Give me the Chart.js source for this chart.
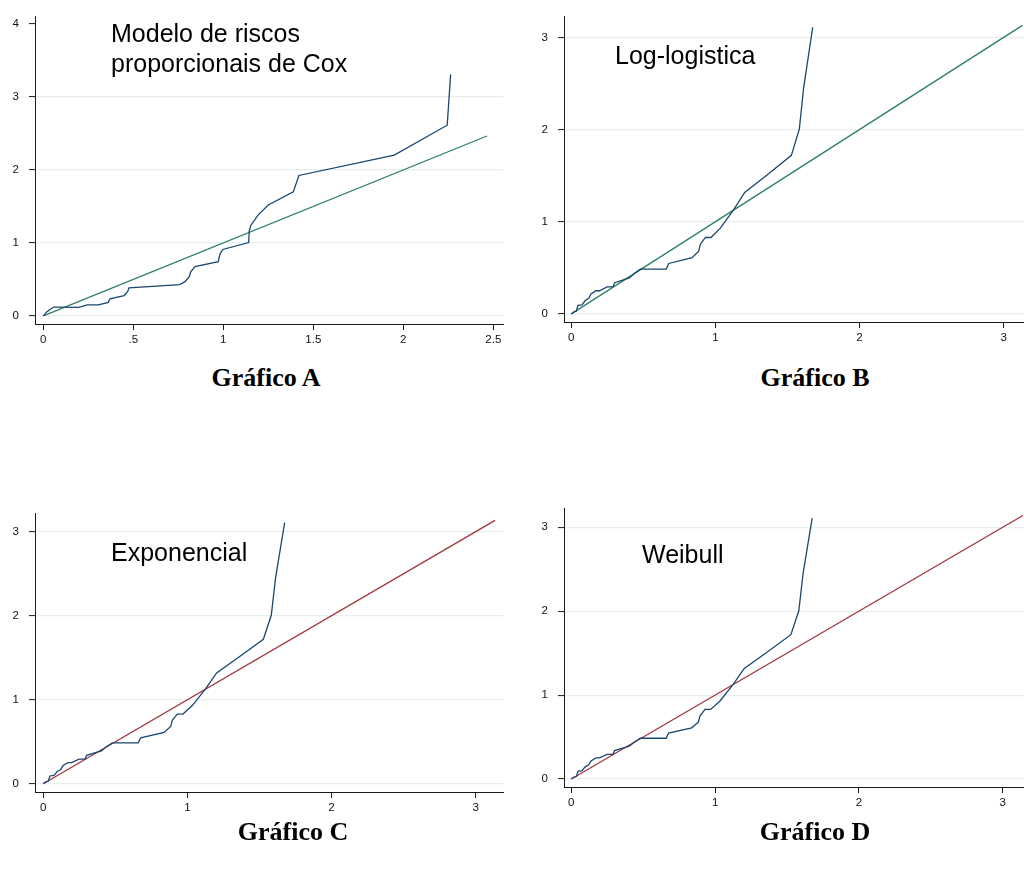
<!DOCTYPE html>
<html>
<head>
<meta charset="utf-8">
<script src="https://cdn.jsdelivr.net/npm/chart.js@4.4.1/dist/chart.umd.min.js"></script>
<style>
  html, body { margin: 0; padding: 0; background: #ffffff; }
  #wrap { position: relative; width: 1024px; height: 872px; overflow: hidden; background: #fff; }
  canvas { position: absolute; }
  .note { position: absolute; font-family: "Liberation Sans", Arial, sans-serif; font-size: 25px; line-height: 25px; color: #000; white-space: nowrap; }
  .ttl { position: absolute; font-family: "Liberation Serif", "Times New Roman", serif; font-weight: bold; font-size: 26px; line-height: 26px; color: #000; text-align: center; width: 200px; white-space: nowrap; }
</style>
</head>
<body>
<div id="wrap">
  <canvas id="cA" width="512" height="360" style="left:0px;top:0px;"></canvas>
  <canvas id="cB" width="512" height="360" style="left:512px;top:0px;"></canvas>
  <canvas id="cC" width="512" height="380" style="left:0px;top:460px;"></canvas>
  <canvas id="cD" width="512" height="380" style="left:512px;top:460px;"></canvas>

  <div class="note" style="left:111px;top:20.5px;">Modelo de riscos</div>
  <div class="note" style="left:111px;top:50.5px;">proporcionais de Cox</div>
  <div class="note" style="left:615px;top:43px;">Log-logistica</div>
  <div class="note" style="left:111px;top:540px;">Exponencial</div>
  <div class="note" style="left:642px;top:541.5px;">Weibull</div>

  <div class="ttl" style="left:166px;top:365px;">Gráfico A</div>
  <div class="ttl" style="left:715px;top:365px;">Gráfico B</div>
  <div class="ttl" style="left:193px;top:819px;">Gráfico C</div>
  <div class="ttl" style="left:715px;top:819px;">Gráfico D</div>
</div>
<script>
// ---- Data ----
// Gráfico A: Cox model Cox-Snell residuals vs cumulative hazard
const A_x = [0, 0.019, 0.037, 0.058, 0.196, 0.245, 0.306, 0.361, 0.370, 0.449, 0.469, 0.476, 0.759, 0.787, 0.811, 0.819, 0.843, 0.972, 0.981, 0.997, 1.141, 1.144, 1.152, 1.194, 1.250, 1.389, 1.420, 1.950, 2.244, 2.263];
const A_y = [0, 0.054, 0.086, 0.120, 0.115, 0.150, 0.150, 0.185, 0.233, 0.278, 0.334, 0.383, 0.428, 0.469, 0.536, 0.604, 0.676, 0.743, 0.843, 0.910, 1.005, 1.158, 1.235, 1.384, 1.519, 1.699, 1.924, 2.203, 2.613, 3.310];
// Gráficos B, C, D: parametric model residual curves
const B_x = [0, 0.016, 0.035, 0.046, 0.074, 0.097, 0.121, 0.137, 0.171, 0.197, 0.248, 0.289, 0.301, 0.403, 0.433, 0.479, 0.659, 0.676, 0.838, 0.884, 0.895, 0.930, 0.969, 1.034, 1.127, 1.203, 1.358, 1.527, 1.582, 1.612, 1.675];
const B_y = [0, 0.021, 0.029, 0.092, 0.099, 0.145, 0.169, 0.216, 0.251, 0.251, 0.293, 0.293, 0.338, 0.391, 0.433, 0.486, 0.486, 0.547, 0.610, 0.681, 0.754, 0.829, 0.829, 0.930, 1.131, 1.318, 1.508, 1.720, 2.005, 2.453, 3.110];
const C_x = B_x, C_y = B_y;
const D_x = B_x, D_y = B_y;
// 45-degree reference lines (start, end)
const A_ref = [0, 2.465];
const B_ref = [0, 3.13];
const C_ref = [0, 3.135];
const D_ref = [0, 3.14];
// Ticks
const A_xTicks = [0, 0.5, 1, 1.5, 2, 2.5];
const A_xTickLabels = ['0', '.5', '1', '1.5', '2', '2.5'];
const A_yTicks = [0, 1, 2, 3, 4];
const A_yTickLabels = ['0', '1', '2', '3', '4'];
const P_xTicks = [0, 1, 2, 3];
const P_xTickLabels = ['0', '1', '2', '3'];
const P_yTicks = [0, 1, 2, 3];
const P_yTickLabels = ['0', '1', '2', '3'];

// ---- Styles ----
const NAVY = '#1a476f';
const GREEN = '#2e7d68';
const MAROON = '#a0353b';
const GRID = '#e6eef0';
const AXIS = '#1a1a1a';
const FONT = { family: '"Liberation Sans", Arial, sans-serif', size: 11.5 };

function pts(xs, ys) { return xs.map((x, i) => ({ x: x, y: ys[i] })); }

function panel(id, o) {
  new Chart(document.getElementById(id), {
    type: 'scatter',
    data: {
      datasets: [
        { data: pts(o.xs, o.ys), showLine: true, borderColor: NAVY, borderWidth: 1.3, pointRadius: 0, tension: 0, order: 1 },
        { data: pts(o.ref, o.ref), showLine: true, borderColor: o.refColor, borderWidth: 1.3, pointRadius: 0, tension: 0, order: 2 }
      ]
    },
    options: {
      responsive: false,
      animation: false,
      events: [],
      layout: { padding: o.pad },
      plugins: { legend: { display: false }, tooltip: { enabled: false }, title: { display: false } },
      scales: {
        x: {
          type: 'linear', min: o.xr[0], max: o.xr[1],
          afterBuildTicks: s => { s.ticks = o.xt.map(v => ({ value: v })); },
          afterFit: s => { s.height = o.xh; },
          ticks: { font: FONT, color: '#111', padding: 3, maxRotation: 0, autoSkip: false,
                   callback: (v, i) => o.xl[i] },
          grid: { drawOnChartArea: false, drawTicks: true, tickLength: 6, tickColor: AXIS, tickWidth: 1 },
          border: { display: true, color: AXIS, width: 1 }
        },
        y: {
          type: 'linear', min: o.yr[0], max: o.yr[1],
          afterBuildTicks: s => { s.ticks = o.yt.map(v => ({ value: v })); },
          afterFit: s => { s.width = o.yw; },
          ticks: { font: FONT, color: '#111', padding: 10, autoSkip: false,
                   callback: (v, i) => o.yl[i] },
          grid: {
            color: ctx => (ctx.tick && o.noGrid.includes(ctx.tick.value)) ? 'rgba(0,0,0,0)' : GRID,
            lineWidth: 1.2, drawTicks: true, tickLength: 6, tickColor: AXIS, tickWidth: 1
          },
          border: { display: true, color: AXIS, width: 1 }
        }
      }
    }
  });
}

panel('cA', { xs: A_x, ys: A_y, ref: A_ref, refColor: GREEN,
  pad: { left: 0, top: 12, right: 9, bottom: 0 }, xh: 36, yw: 35,
  xr: [-0.0461, 2.554], yr: [-0.112, 4.098],
  xt: A_xTicks, xl: A_xTickLabels, yt: A_yTicks, yl: A_yTickLabels, noGrid: [4] });

panel('cB', { xs: B_x, ys: B_y, ref: B_ref, refColor: GREEN,
  pad: { left: 0, top: 9, right: 0, bottom: 0 }, xh: 38, yw: 52,
  xr: [-0.0507, 3.141], yr: [-0.0878, 3.222],
  xt: P_xTicks, xl: P_xTickLabels, yt: P_yTicks, yl: P_yTickLabels, noGrid: [] });

panel('cC', { xs: C_x, ys: C_y, ref: C_ref, refColor: MAROON,
  pad: { left: 0, top: 53, right: 9, bottom: 0 }, xh: 48, yw: 35,
  xr: [-0.0576, 3.190], yr: [-0.0988, 3.223],
  xt: P_xTicks, xl: P_xTickLabels, yt: P_yTicks, yl: P_yTickLabels, noGrid: [] });

panel('cD', { xs: D_x, ys: D_y, ref: D_ref, refColor: MAROON,
  pad: { left: 0, top: 48, right: 0, bottom: 0 }, xh: 53, yw: 52,
  xr: [-0.0508, 3.148], yr: [-0.0953, 3.230],
  xt: P_xTicks, xl: P_xTickLabels, yt: P_yTicks, yl: P_yTickLabels, noGrid: [] });
</script>
</body>
</html>
